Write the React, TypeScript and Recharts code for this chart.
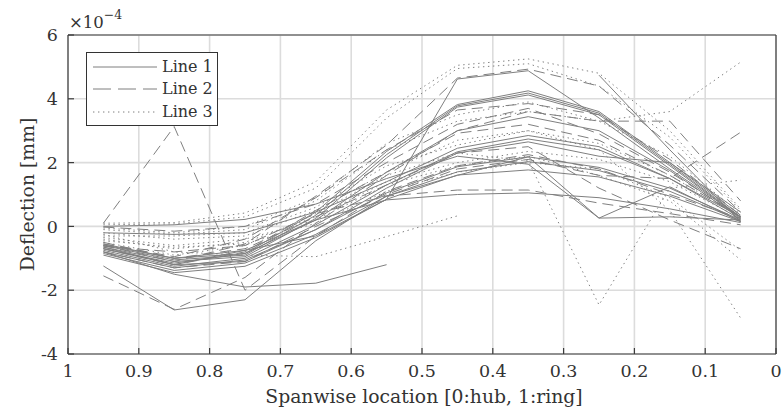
import React from 'react';
import { LineChart, Line, XAxis, YAxis, CartesianGrid } from 'recharts';

// Spanwise stations (0:hub, 1:ring)
const spanwise = [0.95, 0.85, 0.75, 0.65, 0.55, 0.45, 0.35, 0.25, 0.15, 0.05];
const xTicks = [0, 0.1, 0.2, 0.3, 0.4, 0.5, 0.6, 0.7, 0.8, 0.9, 1];
const yTicks = [-4, -2, 0, 2, 4, 6];

// Deflection values in units of 1e-4 mm
type V = (number | null)[];
const line1Series: V[] = [
  [-0.55, -1.0, -0.85, 0.45, 2.35, 3.82, 4.25, 3.6, 2.0, 0.35],
  [-0.6, -1.05, -0.9, 0.35, 2.25, 3.78, 4.18, 3.55, 1.95, 0.3],
  [-0.65, -1.1, -0.95, 0.25, 2.15, 3.74, 4.12, 3.5, 1.9, 0.28],
  [-0.7, -1.15, -0.85, 0.2, 1.7, 3.0, 3.44, 3.0, 1.75, 0.25],
  [-0.75, -1.25, -1.0, 0.05, 1.3, 2.34, 2.74, 2.4, 1.5, 0.22],
  [-0.8, -1.3, -1.05, -0.1, 1.05, 1.87, 2.18, 1.85, 1.2, 0.2],
  [-0.85, -1.38, -1.15, -0.25, 0.95, 1.71, 2.03, 1.75, 1.1, 0.18],
  [-0.9, -1.45, -1.25, -0.35, 0.85, 1.61, 1.77, 1.55, 0.95, 0.15],
  [-0.58, -1.0, -0.75, 0.2, 0.83, 1.0, 1.05, 0.9, 0.55, 0.12],
  [-0.8, -1.5, -1.9, -1.78, -1.2, null, null, null, null, null],
  [-1.24, -2.62, -2.3, -0.45, 0.95, 1.6, 2.18, 0.26, 0.3, 0.2],
  [0.0, 0.05, 0.22, 0.7, 1.5, 2.2, 1.95, 0.26, 1.24, 0.15],
  [-0.2, -0.25, -0.2, 0.45, 1.4, 2.45, 2.85, 2.5, 1.5, 0.3],
  [-0.7, -1.2, -0.75, -0.3, 0.85, 4.62, 4.88, 3.4, 1.8, 0.3],
  [null, null, null, null, null, null, null, 4.74, 2.4, 0.15],
  [-0.65, -1.2, -1.1, -0.1, 1.2, 2.3, 2.65, 2.2, 2.0, 0.45],
];
const line2Series: V[] = [
  [-0.6, -1.1, -0.55, 0.95, 2.55, 4.65, 4.93, 4.4, 2.55, 0.45],
  [-0.55, -0.95, -0.4, 0.9, 2.4, 3.65, 3.85, 3.5, 2.1, 0.35],
  [-0.7, -1.2, -0.8, 0.5, 1.7, 2.92, 3.2, 2.7, 1.6, 0.3],
  [-0.62, -0.8, -0.6, 0.4, 0.95, 1.14, 1.14, 0.73, 0.4, 0.05],
  [0.1, 3.13, -2.0, -0.3, 1.1, 1.9, 2.25, 1.8, 1.0, 0.25],
  [-1.55, -2.6, -1.6, 0.1, 1.6, 3.0, 3.6, 3.3, 3.3, 0.8],
  [-0.8, -1.3, -1.1, 0.0, 1.0, 1.8, 2.1, 1.6, 1.5, 2.95],
  [-0.5, -1.0, -0.7, 0.3, 1.3, 2.3, 2.5, 1.2, 0.2, -0.7],
  [-0.02, -0.15, 0.0, 0.7, 2.0, 3.2, 3.7, 2.9, 1.7, 0.3],
];
const line3Series: V[] = [
  [0.1, 0.12, 0.42, 1.4, 3.65, 5.05, 5.25, 4.8, 3.0, 0.55],
  [0.05, 0.08, 0.3, 1.2, 3.4, 4.95, 5.1, 4.4, 2.8, 0.5],
  [-0.05, -0.2, 0.0, 0.9, 2.6, 3.5, 3.9, 3.3, 2.2, 0.4],
  [-0.3, -0.3, -0.2, 0.6, 1.9, 2.55, 3.0, 2.6, 1.6, 0.3],
  [-0.4, -0.7, -0.5, 0.3, 1.4, 2.0, 2.35, 2.1, 1.4, 0.25],
  [-0.25, -0.8, -0.9, -0.95, -0.32, 0.33, null, null, null, null],
  [-0.5, -0.9, -0.6, 0.4, 1.6, 2.3, 2.05, -2.46, 1.2, 1.45],
  [-0.1, -0.25, -0.1, 0.8, 2.4, 3.3, 3.6, 3.3, 3.6, 5.15],
  [-0.2, -0.4, -0.3, 0.5, 1.7, 2.7, 3.0, 2.4, 0.5, -2.87],
  [-0.35, -0.6, -0.4, 0.2, 1.3, 1.9, 2.2, 1.6, 0.8, -1.05],
  [-0.45, -0.65, -0.55, 0.1, 1.1, 1.7, 2.0, 1.8, 0.9, -0.75],
];

const LINE_COLOR = '#7f7f7f';
const DASH = '11 6';
const DOT = '1.4 3.6';
const FONT = '"DejaVu Serif", "Liberation Serif", serif';
const TEXT_COLOR = '#333333';

type S = { key: string; values: V; dash?: string };
const allSeries: S[] = [
  ...line1Series.map((v, i) => ({ key: `l1_${i}`, values: v })),
  ...line2Series.map((v, i) => ({ key: `l2_${i}`, values: v, dash: DASH })),
  ...line3Series.map((v, i) => ({ key: `l3_${i}`, values: v, dash: DOT })),
];

const data = spanwise.map((x, j) => {
  const row: Record<string, number | null> = { x };
  allSeries.forEach((s) => {
    row[s.key] = s.values[j];
  });
  return row;
});

const fmtX = (v: number) => (v === 0 ? '0' : v === 1 ? '1' : v.toFixed(1));
const fmtY = (v: number) => String(v);

const tickStyle = { fontFamily: FONT, fontSize: 17.5, fill: TEXT_COLOR };

const XLabel = (props: any) => {
  const vb = props.viewBox || {};
  const cx = (vb.x || 0) + (vb.width || 0) / 2;
  return (
    <text x={cx + 2} y={403} textAnchor="middle" fontFamily={FONT} fontSize={18.8} fill={TEXT_COLOR}>
      Spanwise location [0:hub, 1:ring]
    </text>
  );
};

const YLabel = (props: any) => {
  const vb = props.viewBox || {};
  const cy = (vb.y || 0) + (vb.height || 0) / 2;
  return (
    <g>
      <text
        x={34}
        y={cy}
        transform={`rotate(-90, 34, ${cy})`}
        textAnchor="middle"
        fontFamily={FONT}
        fontSize={18.8}
        fill={TEXT_COLOR}
      >
        Deflection [mm]
      </text>
      <text x={69} y={28} fontFamily={FONT} fontSize={16.5} fill={TEXT_COLOR}>
        ×10
        <tspan dy={-9} fontSize={12.5}>−4</tspan>
      </text>
    </g>
  );
};

const LegendBox = () => {
  const rows = [
    { label: 'Line 1', dash: undefined as string | undefined },
    { label: 'Line 2', dash: '18 7' },
    { label: 'Line 3', dash: DOT },
  ];
  return (
    <div
      style={{
        position: 'absolute',
        left: 86,
        top: 52,
        width: 132,
        height: 74,
        border: '1px solid #333',
        background: '#fff',
        boxSizing: 'border-box',
      }}
    >
      {rows.map((r, i) => (
        <div key={r.label} style={{ position: 'absolute', left: 0, top: 3 + i * 22.3, height: 22, width: 130 }}>
          <svg width={70} height={22} style={{ position: 'absolute', left: 6, top: 0 }}>
            <line x1={0} y1={11} x2={64} y2={11} stroke={LINE_COLOR} strokeWidth={1} strokeDasharray={r.dash} />
          </svg>
          <span
            style={{
              position: 'absolute',
              left: 75,
              top: 0,
              lineHeight: '22px',
              fontFamily: FONT,
              fontSize: 16,
              color: TEXT_COLOR,
              whiteSpace: 'nowrap',
            }}
          >
            {r.label}
          </span>
        </div>
      ))}
    </div>
  );
};

export default function App() {
  return (
    <div style={{ position: 'absolute', left: 0, top: 0, width: 784, height: 415, background: '#fff' }}>
      <LineChart width={784} height={415} data={data} margin={{ top: 30, right: 0, bottom: 0, left: 0 }}>
        <CartesianGrid xAxisId="b" yAxisId="l" stroke="#dcdcdc" strokeWidth={1.6} />
        <XAxis
          xAxisId="b"
          dataKey="x"
          type="number"
          domain={[0, 1]}
          reversed
          ticks={xTicks}
          tickFormatter={fmtX}
          interval={0}
          height={61}
          tickSize={-6}
          tickMargin={17}
          tick={tickStyle}
          axisLine={{ stroke: '#3c3c3c', strokeWidth: 1.2 }}
          tickLine={{ stroke: '#3c3c3c', strokeWidth: 1.2 }}
          label={{ content: XLabel }}
          allowDataOverflow
        />
        <XAxis
          xAxisId="t"
          orientation="top"
          type="number"
          domain={[0, 1]}
          reversed
          ticks={xTicks}
          interval={0}
          height={5}
          tickSize={-6}
          tick={false}
          axisLine={{ stroke: '#3c3c3c', strokeWidth: 1.2 }}
          tickLine={{ stroke: '#3c3c3c', strokeWidth: 1.2 }}
        />
        <YAxis
          yAxisId="l"
          type="number"
          domain={[-4, 6]}
          ticks={yTicks}
          tickFormatter={fmtY}
          interval={0}
          width={68}
          tickSize={-6}
          tickMargin={16}
          tick={tickStyle}
          axisLine={{ stroke: '#3c3c3c', strokeWidth: 1.2 }}
          tickLine={{ stroke: '#3c3c3c', strokeWidth: 1.2 }}
          label={{ content: YLabel }}
          allowDataOverflow
        />
        <YAxis
          yAxisId="r"
          orientation="right"
          type="number"
          domain={[-4, 6]}
          ticks={yTicks}
          interval={0}
          width={8}
          tickSize={-6}
          tick={false}
          axisLine={{ stroke: '#3c3c3c', strokeWidth: 1.2 }}
          tickLine={{ stroke: '#3c3c3c', strokeWidth: 1.2 }}
        />
        {allSeries.map((s) => (
          <Line
            key={s.key}
            xAxisId="b"
            yAxisId="l"
            dataKey={s.key}
            type="linear"
            stroke={LINE_COLOR}
            strokeWidth={1}
            strokeDasharray={s.dash}
            dot={false}
            activeDot={false}
            isAnimationActive={false}
            connectNulls={false}
          />
        ))}
      </LineChart>
      <LegendBox />
    </div>
  );
}
